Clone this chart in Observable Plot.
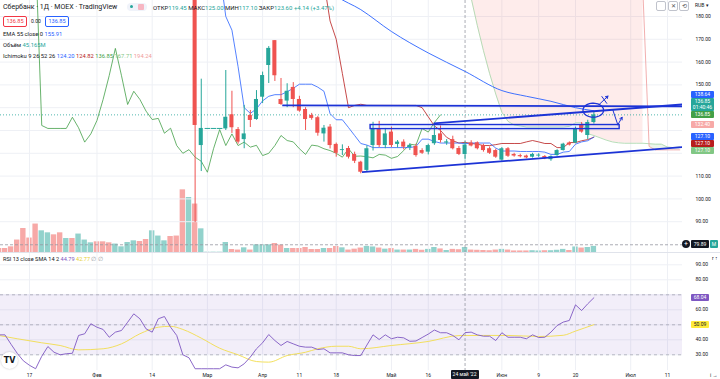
<!DOCTYPE html>
<html><head><meta charset="utf-8">
<script src="https://cdn.jsdelivr.net/npm/d3@7"></script>
<script src="https://cdn.jsdelivr.net/npm/@observablehq/plot@0.6"></script>
<style>
html,body{margin:0;padding:0;background:#fff;}
#root{position:relative;width:720px;height:379px;overflow:hidden;font-family:Roboto,"Noto Sans",sans-serif;color:#131722;}
#root svg{position:absolute;left:0;}
.t{position:absolute;white-space:nowrap;line-height:1;}
.tag{position:absolute;font-size:5px;line-height:7px;height:7px;text-align:center;border-radius:1px;color:#fff;white-space:nowrap;}
</style></head><body><div id="root"></div>
<script>
// ---------- DATA ----------
const tickIdx = [5,16,25,34,43,49,55,64,70,82,88,94,103,109];
const tickLab = ["17","Фев","14","Мар","Апр","11","18","Май","16","Июн","9","20","Июл","11"];
const priceTicks = [90,100,110,120,130,140,150,160,170,180];
const rsiTicks = [30,40,50,60,70,80,90];

const candleStart = 30;
const open  = [262,190,195,123.4,130.9,130.9,130.9,130.7,136.9,130.4,126,136.6,134.8,144.6,158.5,169.4,143.6,142.9,148.9,143.6,139.2,136.6,135.6,128.5,131.5,123.9,121.2,122.1,119.5,116.1,112.5,123.4,130.4,123.4,129.3,123.9,124.9,122.5,123,121.2,120.5,124.2,128.5,124.5,126,122.1,119.45,124.5,124.6,123.4,122,121.2,117,122,119.5,119,118.8,118.3,118.8,118.6,117.2,119,121.2,124.5,124.5,132.2,127.8,133.5];
const high  = [265,215,200,152.5,130.9,130.9,130.9,156.3,147.2,131.3,141,138.8,147.5,155.6,166.8,169.4,152.8,150.5,151,145,140,137.5,136.2,132.2,132.6,124.5,123.7,123,120.5,116.5,123.3,133.6,134,130.9,131.5,125.6,125.9,124.2,124,122,124,132,132,126,127.5,123,125,125.5,125,124,122.8,121.8,122.5,122.5,120,119.6,119.2,120,119.8,119,118.9,121.6,124.4,125,131.5,133.5,134.5,138];
const low   = [198,188,89.6,112,130.9,130.9,130.9,130,128.7,124,122,131.3,134.5,141.8,150.6,151.5,141,140,140,138,130,134.5,127.5,124.9,121.9,118.3,119,117.5,115.5,111,112,121,122.5,122,122.5,122.3,121.5,121.2,118.3,119.5,119.3,123.5,124.5,123.5,121.5,119,117.1,122.8,121.5,120.5,119.5,117.8,116.5,118.2,118.3,118,117.6,117.9,118.2,117.2,116.5,118.7,121,123.2,124.2,128.8,126,132.8];
const close = [202,208,132.2,130.9,130.9,130.9,130.9,135.8,131.2,124.9,128.5,134.4,143.6,154.1,166,154,141.4,147.2,143.6,138.5,134.8,135.3,128.8,131,123.4,120,121.6,118.3,116.5,111.7,122,130.4,123.4,128.5,123.4,124.9,122.7,123.5,119,120,123.4,127.8,125.6,125,122,119.5,123.6,123.2,122,121.2,120,118.3,122,118.7,118.8,118.5,118,119.5,119.2,117.8,118.6,121.2,124,123.6,130.9,129.3,133.5,136.85];

// volume, millions, bar index 0..97
const volume = [36,36,51,112,216,130,256,195,177,159,177,126,126,166,112,87,96,96,87,76,51,90,105,99,117,195,148,105,144,148,564,495,436,213,3,3,3,90,27,22,42,22,69,69,69,81,67,36,36,36,45,27,27,36,36,54,42,22,30,40,55,50,40,30,35,22,22,22,28,20,28,45,32,18,28,25,45.165,22,20,18,16,22,28,22,14,14,14,16,14,16,16,20,28,18,50,40,45,55];
const volUp = [0,0,0,0,0,0,0,1,1,0,0,1,0,1,1,1,0,0,0,1,1,1,1,0,0,1,1,1,0,0];

const emaIdx = [52,55,59,64,70,76,82,86,90,94,97];
const emaVal = [196,189,183,173.4,164,155.91,147.5,145,142.8,140,138.64];

const tenkanStart = 36;
const tenkan = [200,180,174,158,140,137.5,139.5,143,145,145.7,145.7,147,148.5,150.3,150.3,150.3,149,147.2,137.4,134.7,134.7,131.3,127.8,124.3,123.6,122.5,122.5,122.5,122.5,122.5,122.5,122.5,123,126.2,126.2,125.2,124.5,124.5,124.5,124.5,124.2,124.5,124.5,124.5,124.5,122.3,121,121,121,120.8,120.8,120.8,120.8,120.5,119.5,119.5,120.5,120.8,124,125,125.5,127.1];
const kijunStart = 53;
const kijun = [195,178,170,155,140,141,141.5,141,141,141,141,141,141,141,141,141,140,136,132,130,127,125.5,124.5,124.82,124.3,124,123.4,123.4,123.8,124.3,124.3,124.3,124.3,125,125.6,125,124.3,124.3,122.5,122.5,124.7,124.7,125.5,126,127.1];
const lagShift = 25;

const cloudIdx = [76,77,78,79,80,81,82,83,84,85,86,88,90,92,93,94,95,96,97,98,99,100,101,102,104,105,106,107,108,109,110,111];
const spanA = [200,188,176,165,155,146,138,134,132.4,132,131.5,131.5,131.5,131.5,131.8,133.4,133.4,128.6,127.8,126.8,125.8,125,124.6,124.4,124.4,124.4,124.2,124,124,122.7,122.5,122.8];
const spanB = [205,200,199,198,197,196,195,194,193,192,191,190,190,190,190,190,190,190,190,190,190,190,190,190,190,190,123,121.5,121.5,121.5,121.5,121.5];

const rsi = [43.3,43.3,37,31,26,23,20.7,29,35.5,31.7,
 30,30.7,31,42.9,44,50.7,48.4,46.9,41.7,45.1,
 46.2,51.7,57.3,54,47.3,45.1,54,55.5,48.4,42.9,
 30,28,20.7,20.7,20.7,20.7,20.7,23.3,21.8,21.3,
 24,28.5,34,38,43.5,39.5,36.2,38.9,37.3,35.7,
 35.1,35.1,33.5,34,31.3,31.3,31.3,30,29.5,29.5,
 36.5,43.3,40.2,43.3,40.7,41.7,41.3,39,39.2,41.5,
 43.8,46.5,44.7,44.7,42.9,40,44.79,45.1,43.3,42.4,
 42.4,39.5,44.7,41.7,41.7,41.7,40.7,43.3,41.5,41.7,
 45.1,49.5,51.8,52.9,63.3,59.5,64,68.04];
const smaIdx = [0,3,7,10,13,17,20,23,26,28,30,33,36,39,42,44,47,50,52,55,57,59,64,70,75,79,83,88,92,94,97];
const smaVal = [42.9,40.7,38,36.2,33.3,34,37.3,44,48.4,49,46.9,41.1,34.4,30,25.5,25.1,29.5,31.7,34,35.7,35.7,34,36.2,38.9,42.8,42.9,42.9,42.2,43,45.8,50.09];

// user drawings (bar index, price)
const drawLines = [
  {x1:46.2, y1:141.0, x2:111.4, y2:140.6},
  {x1:70.9, y1:133.1, x2:111.4, y2:141.4},
  {x1:59.2, y1:111.7, x2:111.4, y2:122.7}
];
const drawRect = [{x1:60.6, x2:101.2, y1:130.6, y2:132.4}];
const drawEllipse = {cx:96.9, cy:138.9, rx:1.68, ry:3.07};
const drawArrows = [
  {x1:97.9, y1:141.5, x2:99.3, y2:145.1},
  {x1:100.9, y1:132.5, x2:101.6, y2:135.8}
];
const drawHooks = [[{i:100.1,p:138.9},{i:100.9,p:132.5}],[{i:98.3,p:144.9},{i:99.1,p:141.9}]];

const crossIdx = 76, crossPrice = 79.89, lastPrice = 136.85;

// ---------- BUILD ----------
const W=720, MR=38, PXB=6.135, X0=0.277, X1=X0+(W-MR)/PXB;
const UP="#26a69a", DN="#ef5350", DRAW="#1c33d6";
const root = document.getElementById("root");

const candles = open.map((o,k)=>({i:candleStart+k,o,h:high[k],l:low[k],c:close[k]}));
const byIdx = new Map(candles.map(d=>[d.i,d]));
const vols = volume.map((v,i)=>{const c=byIdx.get(i);return {i,v,up: c? c.c>=c.o : volUp[i]===1};});
const lagging = candles.map(d=>({i:d.i-lagShift,p:d.c}));
const ema = emaIdx.map((i,k)=>({i,p:emaVal[k]}));
const tenk = tenkan.map((p,k)=>({i:tenkanStart+k,p}));
const kij = kijun.map((p,k)=>({i:kijunStart+k,p}));
const cloud = cloudIdx.map((i,k)=>({i,a:spanA[k],b:spanB[k]}));
const rsiData = rsi.map((r,i)=>({i,r}));
const smaData = smaIdx.map((i,k)=>({i,r:smaVal[k]}));
const ell = d3.range(0,361,8).map(a=>({i:drawEllipse.cx+drawEllipse.rx*Math.cos(a*Math.PI/180),p:drawEllipse.cy+drawEllipse.ry*Math.sin(a*Math.PI/180)}));
const flat = candles.filter(d=>d.o===d.c);

// tag layout helpers (done before axes so hidden tick labels can be skipped)
const yPrice = d3.scaleLinear([76.5,187],[252,0]);
const yRsi = d3.scaleLinear([19.53,97.53],[117,0]);
function placeTags(list, yOf){
  const placed=[];
  for(const t of list){
    let c=yOf(t.v), h=t.h||7, moved=true, guard=0;
    while(moved && guard++<20){
      moved=false;
      for(const p of placed){
        if(c-h/2 < p.c+p.h/2-0.01 && c+h/2 > p.c-p.h/2+0.01){
          c = t.dir<0 ? p.c-p.h/2-h/2 : p.c+p.h/2+h/2; moved=true;
        }
      }
    }
    placed.push({...t,c,h});
  }
  return placed;
}
const priceTags = placeTags([
  {v:136.85, txt:"136.85", bg:"#43a047"},
  {v:132.40, txt:"132.40", bg:"#f7a9a7"},
  {v:127.10, txt:"127.10", bg:"#2962ff"},
  {v:136.85, txt:"136.85<br>01:40:46", bg:"#26a69a", h:13, dir:-1},
  {v:138.64, txt:"138.64", bg:"#2962ff", dir:-1},
  {v:127.10, txt:"127.10", bg:"#b71c1c", dir:1},
  {v:127.10, txt:"127.10", bg:"#81c784", dir:1},
  {v:79.89, txt:"79.89", bg:"#131722", h:8}
], v=>yPrice(v));
const rsiTags = placeTags([
  {v:68.04,txt:"68.04",bg:"#7e57c2",fg:"#fff"},
  {v:50.09,txt:"50.09",bg:"#ffeb3b",fg:"#131722"}
], v=>yRsi(v));
const free = (tags,yOf)=>v=>!tags.some(t=>Math.abs(yOf(v)-t.c) < t.h/2+2.5);
const priceTickLabels = priceTicks.filter(free(priceTags,v=>yPrice(v)));
const rsiTickLabels = rsiTicks.filter(free(rsiTags,v=>yRsi(v)));

const common = {width:W, marginLeft:0, marginRight:MR, marginTop:0,
  x:{domain:[X0,X1], axis:null}, color:{type:"identity"},
  style:{background:"transparent", fontFamily:"Roboto, sans-serif", fontSize:"5px", color:"#131722", overflow:"visible"}};

// volume layer
const volPlot = Plot.plot({...common, height:252, marginBottom:0,
  y:{domain:[0,252*9], axis:null},
  marks:[
    Plot.rect(vols,{x1:d=>d.i-0.44,x2:d=>d.i+0.44,y1:0,y2:"v",fill:d=>d.up?"rgba(38,166,154,0.5)":"rgba(239,83,80,0.5)",clip:true})
  ]});

// price layer
const pricePlot = Plot.plot({...common, height:252, marginBottom:0,
  y:{domain:[76.5,187], axis:null},
  marks:[
    Plot.ruleY(priceTicks,{stroke:"#eef0f5",strokeWidth:1}),
    Plot.ruleX(tickIdx,{stroke:"#eef0f5",strokeWidth:1}),
    Plot.areaY(cloud.filter(d=>d.b>=d.a),{x:"i",y1:"a",y2:"b",fill:"rgba(244,67,54,0.1)",clip:true}),
    Plot.areaY(cloud.filter(d=>d.i>=106),{x:"i",y1:"a",y2:"b",fill:"rgba(67,160,71,0.1)",clip:true}),
    Plot.line(cloud,{x:"i",y:"a",stroke:"#a5d6a7",strokeWidth:0.8,clip:true}),
    Plot.line(cloud,{x:"i",y:"b",stroke:"#ef9a9a",strokeWidth:0.8,clip:true}),
    Plot.ruleY([lastPrice],{stroke:UP,strokeDasharray:"1,2",strokeWidth:0.8}),
    Plot.ruleX([crossIdx],{stroke:"#9598a1",strokeDasharray:"3,2",strokeWidth:0.8}),
    Plot.ruleY([crossPrice],{stroke:"#9598a1",strokeDasharray:"3,2",strokeWidth:0.8}),
    Plot.line(ema,{x:"i",y:"p",stroke:"#2962ff",strokeWidth:0.9,curve:"monotone-x",clip:true}),
    Plot.line(lagging,{x:"i",y:"p",stroke:"#43a047",strokeWidth:0.8,clip:true}),
    Plot.line(kij,{x:"i",y:"p",stroke:"#b71c1c",strokeWidth:0.8,clip:true}),
    Plot.line(tenk,{x:"i",y:"p",stroke:"#2962ff",strokeWidth:0.8,clip:true}),
    Plot.ruleX(candles,{x:"i",y1:"l",y2:"h",stroke:d=>d.c>=d.o?UP:DN,strokeWidth:1,clip:true}),
    Plot.rect(candles,{x1:d=>d.i-0.33,x2:d=>d.i+0.33,y1:"o",y2:"c",fill:d=>d.c>=d.o?UP:DN,clip:true}),
    Plot.link(flat,{x1:d=>d.i-0.45,x2:d=>d.i+0.45,y1:"o",y2:"o",stroke:UP,strokeWidth:1}),
    Plot.rect(drawRect,{x1:"x1",x2:"x2",y1:"y1",y2:"y2",fill:"rgba(41,98,255,0.08)",stroke:DRAW,strokeWidth:1.4}),
    Plot.link(drawLines,{x1:"x1",y1:"y1",x2:"x2",y2:"y2",stroke:DRAW,strokeWidth:1.8,clip:true}),
    Plot.line(ell,{x:"i",y:"p",stroke:DRAW,strokeWidth:1.3,curve:"linear-closed"}),
    ...drawHooks.map(h=>Plot.line(h,{x:"i",y:"p",stroke:DRAW,strokeWidth:1})),
    Plot.arrow(drawArrows,{x1:"x1",y1:"y1",x2:"x2",y2:"y2",stroke:DRAW,strokeWidth:1,headLength:4}),
    Plot.axisY(priceTickLabels,{anchor:"right",tickSize:0,tickPadding:13,tickFormat:d=>d.toFixed(2),fontSize:5})
  ]});

// RSI layer
const rsiPlot = Plot.plot({...common, height:126, marginBottom:9,
  y:{domain:[19.53,97.53], axis:null},
  marks:[
    Plot.ruleY(rsiTicks,{stroke:"#eef0f5"}),
    Plot.ruleX(tickIdx,{stroke:"#eef0f5"}),
    Plot.rect([0],{x1:X0,x2:X1,y1:30,y2:70,fill:"#7e57c2",fillOpacity:0.1}),
    Plot.ruleY([30,50,70],{stroke:"#787b86",strokeDasharray:"3,3",strokeOpacity:0.6,strokeWidth:0.8}),
    Plot.line(smaData,{x:"i",y:"r",stroke:"#f2dc4c",strokeWidth:0.9,curve:"monotone-x"}),
    Plot.line(rsiData,{x:"i",y:"r",stroke:"#7e57c2",strokeWidth:0.9}),
    Plot.ruleX([crossIdx],{stroke:"#9598a1",strokeDasharray:"3,2",strokeWidth:0.8}),
    Plot.axisX(tickIdx,{anchor:"bottom",tickSize:0,tickPadding:2.5,tickFormat:d=>tickLab[tickIdx.indexOf(d)],fontSize:5}),
    Plot.axisY(rsiTickLabels,{anchor:"right",tickSize:0,tickPadding:13,tickFormat:d=>d.toFixed(2),fontSize:5})
  ]});

volPlot.style.top="0px"; pricePlot.style.top="0px"; rsiPlot.style.top="253px";
root.append(volPlot, pricePlot, rsiPlot);

function add(html){root.insertAdjacentHTML("beforeend",html);}
add(`<div style="position:absolute;left:0;top:252px;width:720px;height:1px;background:#e0e3eb"></div>`);

// legends
add(`<div class="t" style="left:3px;top:4px;font-size:7px">Сбербанк · 1Д · MOEX · TradingView</div>`);
add(`<div style="position:absolute;left:127px;top:2.5px;width:20px;height:8px;border-radius:4px;background:#f0f3fa"></div>
<div style="position:absolute;left:130px;top:5px;width:3px;height:3px;border-radius:2px;background:#26a69a"></div>
<div style="position:absolute;left:138px;top:3.5px;width:6px;height:6px;border-radius:1px;background:#f7b6c2"></div>`);
const G = s=>`<span style="color:#26a69a">${s}</span>`;
add(`<div class="t" style="left:153px;top:5.2px;font-size:6px;color:#131722">ОТКР${G("119.45")} МАКС${G("125.00")} МИН${G("117.10")} ЗАКР${G("123.60")} ${G("+4.14 (+3.47%)")}</div>`);
add(`<div class="t" style="left:3px;top:16px;width:22px;height:9px;border:0.8px solid #f23645;border-radius:2px;color:#f23645;font-size:5.6px;line-height:9px;text-align:center">136.85</div>
<div class="t" style="left:31px;top:18.5px;font-size:5px;color:#131722">0.00</div>
<div class="t" style="left:45px;top:16px;width:22px;height:9px;border:0.8px solid #2962ff;border-radius:2px;color:#2962ff;font-size:5.6px;line-height:9px;text-align:center">136.85</div>`);
add(`<div class="t" style="left:3px;top:32px;font-size:5.8px">EMA 55 close 0 <span style="color:#2962ff">155.91</span></div>`);
add(`<div class="t" style="left:3px;top:43px;font-size:5.8px">Объём <span style="color:#26a69a">45.165M</span></div>`);
add(`<div class="t" style="left:3px;top:54px;font-size:5.8px">Ichimoku 9 26 52 26 <span style="color:#2962ff">124.20</span> <span style="color:#b71c1c">124.82</span> <span style="color:#43a047">136.85</span> <span style="color:#81c784">167.71</span> <span style="color:#ef9a9a">194.24</span></div>`);
add(`<div class="t" style="left:3px;top:256.5px;font-size:5.6px">RSI 13 close SMA 14 2 <span style="color:#7e57c2">44.79</span> <span style="color:#e6cf2e">42.77</span> <span style="color:#9598a1">∅ ∅</span></div>`);

// top-right controls
add(`<div style="position:absolute;left:656px;top:1px;width:8px;height:8px;border:0.7px solid #c0c3cc;border-radius:2px"></div>
<div style="position:absolute;left:668px;top:1px;width:8px;height:8px;border:0.7px solid #c0c3cc;border-radius:2px;font-size:6px;line-height:8px;text-align:center;color:#555">✕</div>
<div style="position:absolute;left:679px;top:1px;width:8px;height:8px;border:0.7px solid #c0c3cc;border-radius:2px;font-size:6px;line-height:8px;text-align:center;color:#555">⟲</div>
<div class="t" style="left:695px;top:3px;font-size:5px">RUB ▾</div>`);

// axis tags
for(const t of priceTags){
  const w = t.h===8 ? 18 : 23;
  add(`<div class="tag" style="left:691px;width:${w}px;top:${t.c-t.h/2}px;height:${t.h}px;background:${t.bg};line-height:${t.h>8?6.5:t.h}px">${t.txt}</div>`);
}
for(const t of rsiTags){
  add(`<div class="tag" style="left:691px;width:18px;top:${253+t.c-3.5}px;background:${t.bg};color:${t.fg}">${t.txt}</div>`);
}
// crosshair extras
const cy = yPrice(crossPrice);
add(`<div class="tag" style="left:682px;width:8px;top:${cy-4}px;height:8px;line-height:8px;background:#131722;border-radius:4px;font-size:7px">+</div>
<div class="tag" style="left:710px;width:8px;top:${cy-4}px;height:8px;line-height:8px;background:#26a69a">M</div>`);
const cx = rsiPlot.scale("x").apply(crossIdx);
add(`<div class="tag" style="left:${cx-14}px;width:28px;top:370px;height:9px;line-height:9px;background:#131722">24 май '22</div>`);
// logo
add(`<div style="position:absolute;left:1px;top:352px;width:17px;height:17px;border-radius:9px;background:#fff;box-shadow:0 0 2px rgba(0,0,0,0.25);font:900 8px 'DejaVu Sans',sans-serif;line-height:17px;text-align:center;color:#131722">TV</div>`);
</script></body></html>
